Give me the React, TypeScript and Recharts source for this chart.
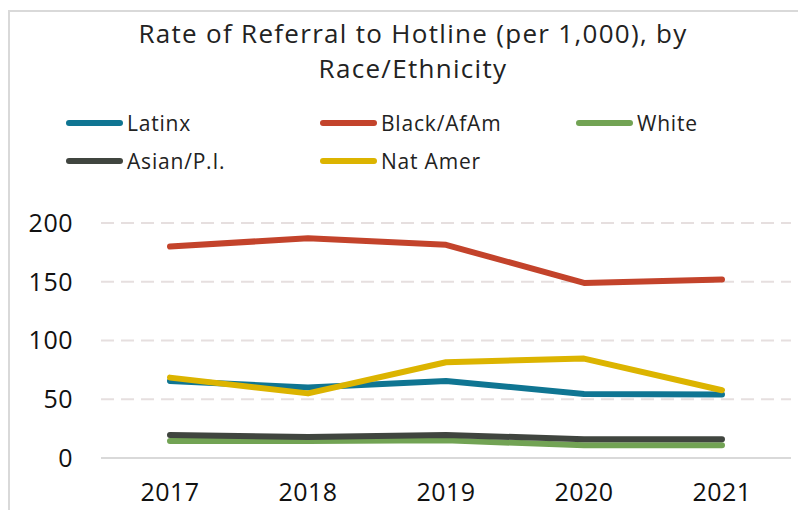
import React from "react";
import { LineChart, Line, XAxis, YAxis, CartesianGrid } from "recharts";

const years = ["2017", "2018", "2019", "2020", "2021"];
const latinx = [65.6, 60, 65.6, 54.5, 54];
const blackAfAm = [180, 187, 181.4, 149, 152];
const white = [14.5, 14.5, 15, 10.8, 10.8];
const asianPI = [19.6, 17.9, 19.6, 16, 16];
const natAmer = [68.4, 55, 81.5, 84.6, 57.7];
const yTicks = [0, 50, 100, 150, 200];
const titleLines = ["Rate of Referral to Hotline (per 1,000), by", "Race/Ethnicity"];

const series = [
  { key: "Latinx", values: latinx, color: "#0f7592" },
  { key: "Black/AfAm", values: blackAfAm, color: "#c3432b" },
  { key: "White", values: white, color: "#72a354" },
  { key: "Asian/P.I.", values: asianPI, color: "#40453f" },
  { key: "Nat Amer", values: natAmer, color: "#dcb400" },
];

const data = years.map((y, i) => {
  const row: Record<string, any> = { year: y };
  series.forEach((s) => (row[s.key] = s.values[i]));
  return row;
});

const FONT = "'Open Sans', 'Noto Sans', sans-serif";

export default function App() {
  const cols = [58, 312, 568];
  const titleCenters = [25, 59.5];
  return (
    <div style={{ position: "relative", width: 790, height: 502, overflow: "hidden" }}>
      <div
        style={{
          position: "absolute",
          left: 0,
          top: 2,
          width: 820,
          height: 540,
          border: "2px solid #d9d9d9",
          boxSizing: "border-box",
        }}
      />
      <div style={{ position: "absolute", left: 0, top: 0 }}>
        <LineChart
          width={790}
          height={502}
          data={data}
          margin={{ top: 215, right: 7, left: 0, bottom: 0 }}
        >
          <CartesianGrid
            vertical={false}
            stroke="#e6dfdf"
            strokeWidth={2}
            strokeDasharray="13 7"
          />
          <XAxis
            dataKey="year"
            height={52}
            padding={{ left: 69, right: 69 }}
            tickLine={false}
            tickSize={0}
            tickMargin={25}
            axisLine={{ stroke: "#d9d9d9", strokeWidth: 2 }}
            tick={{ fontFamily: FONT, fontSize: 25, fill: "#111", letterSpacing: 0.5 }}
          />
          <YAxis
            width={93}
            domain={[0, 200]}
            ticks={yTicks}
            axisLine={false}
            tickLine={false}
            tickSize={0}
            tickMargin={28}
            tick={{ fontFamily: FONT, fontSize: 25, fill: "#111", letterSpacing: 0.5 }}
          />
          {series.map((s) => (
            <Line
              key={s.key}
              dataKey={s.key}
              stroke={s.color}
              strokeWidth={6}
              strokeLinecap="round"
              strokeLinejoin="round"
              dot={false}
              activeDot={false}
              isAnimationActive={false}
            />
          ))}
        </LineChart>
      </div>
      {titleLines.map((t, i) => (
        <div
          key={i}
          style={{
            position: "absolute",
            left: 0,
            top: titleCenters[i] - 16,
            width: 810,
            height: 32,
            lineHeight: "32px",
            textAlign: "center",
            fontFamily: FONT,
            fontSize: 26,
            color: "#222",
            letterSpacing: 1.3,
            whiteSpace: "nowrap",
          }}
        >
          {t}
        </div>
      ))}
      {series.map((s, i) => {
        const col = i % 3;
        const row = Math.floor(i / 3);
        return (
          <div
            key={s.key}
            style={{
              position: "absolute",
              left: cols[col],
              top: 114.5 + row * 38 - 15,
              display: "flex",
              alignItems: "center",
              height: 30,
            }}
          >
            <div
              style={{
                width: 57,
                height: 6,
                borderRadius: 3,
                background: s.color,
                marginRight: 4,
              }}
            />
            <span style={{ fontFamily: FONT, fontSize: 21, color: "#222", letterSpacing: 0.8 }}>
              {s.key}
            </span>
          </div>
        );
      })}
    </div>
  );
}
